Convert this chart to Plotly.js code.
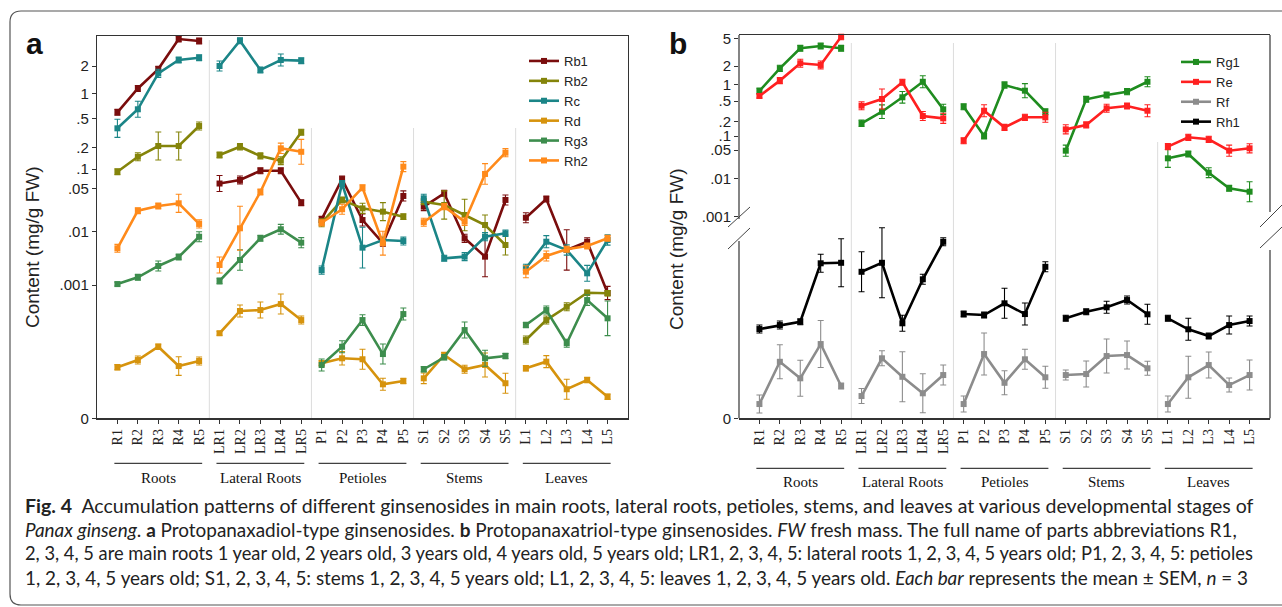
<!DOCTYPE html>
<html><head><meta charset="utf-8">
<script src="https://cdn.plot.ly/plotly-3.0.1.min.js"></script>
<style>html,body{margin:0;padding:0;background:#fff}#chart{width:1282px;height:607px}</style>
</head><body><div id="chart"></div>
<script>
// ---------------- DATA (mg/g FW, mean and SEM) ----------------
const groups = ['Roots','Lateral Roots','Petioles','Stems','Leaves'];
const categories = ['R1','R2','R3','R4','R5','LR1','LR2','LR3','LR4','LR5','P1','P2','P3','P4','P5','S1','S2','S3','S4','S5','L1','L2','L3','L4','L5'];

// Panel a: protopanaxadiol-type ginsenosides
const Rb1 = [0.59,1.13,1.85,3.97,3.78, 0.060,0.068,0.094,0.094,0.0295, 0.0157,0.070,0.0153,0.0060,0.038, 0.0254,0.042,0.0074,0.00337,0.0327, 0.0167,0.0339,0.00449,0.0064,0.00094];
const Rb1_sem = [0.05,0.09,0.14,0.31,0.29, 0.0195,0.010,0.010,0.010,0.0035, 0.0019,0.0078,0.0039,0.0008,0.008, 0.0041,0.005,0.0014,0.0046,0.0068, 0.0035,0.004,0.0061,0.0012,0.00005];
const Rb2 = [0.091,0.149,0.211,0.211,0.393, 0.158,0.206,0.153,0.131,0.324, 0.0138,0.0327,0.0238,0.0210,0.0174, 0.0306,0.0270,0.0185,0.0127,0.00556, 0.000587,0.000737,0.000837,0.000942,0.000938];
const Rb2_sem = [0.01,0.021,0.115,0.115,0.052, 0.016,0.021,0.016,0.018,0.032, 0.0022,0.0039,0.005,0.0085,0.002, 0.0037,0.019,0.015,0.0058,0.003, 0.00003,0.00003,0.00003,0.00002,0.00002];
const Rc = [0.366,0.642,1.66,2.33,2.47, 2.0,3.80,1.81,2.33,2.29, 0.0019,0.060,0.00496,0.00689,0.00659, 0.0348,0.00314,0.00337,0.00793,0.00918, 0.00205,0.0064,0.00449,0.00165,0.00689];
const Rc_sem = [0.12,0.16,0.18,0.18,0.19, 0.27,0.30,0.14,0.38,0.18, 0.00036,0.0067,0.0067,0.00094,0.0012, 0.0057,0.00043,0.00063,0.0015,0.0013, 0.00038,0.0019,0.0011,0.00067,0.0017];
const Rd = [0.000383,0.000437,0.000537,0.000392,0.00043, 0.000638,0.000805,0.000812,0.000857,0.000737, 0.000413,0.00045,0.000443,0.000255,0.00028, 0.0003,0.000475,0.000368,0.0004,0.000263, 0.000375,0.000425,0.000218,0.000287,0.000162];
const Rd_sem = [0.00002,0.00003,0.00002,0.00007,0.00003, 0.000015,0.000045,0.00006,0.000075,0.00003, 0.00002,0.00005,0.000075,0.000045,0.00002, 0.00004,0.00002,0.00003,0.00009,0.000075, 0.00002,0.000045,0.000075,0.00002,0.00002];
const Rg3 = [0.00104,0.00139,0.00226,0.00332,0.00793, 0.00119,0.00292,0.0074,0.0108,0.00614, 0.0004,0.000537,0.000737,0.000482,0.000782, 0.000368,0.000458,0.000662,0.00045,0.000467, 0.0007,0.000812,0.000563,0.000887,0.00075];
const Rg3_sem = [0.00009,0.00019,0.00054,0.00045,0.0019, 0.00016,0.0016,0.001,0.0022,0.0015, 0.000045,0.000045,0.00004,0.000075,0.000045, 0.00002,0.00002,0.00006,0.00006,0.00002, 0.00002,0.00003,0.00003,0.00004,0.00013];
const Rh2 = [0.00482,0.0218,0.026,0.0288,0.0132, 0.00236,0.0112,0.0441,0.196,0.175, 0.0138,0.023,0.0518,0.006,0.108, 0.0141,0.0254,0.0144,0.084,0.170, 0.00177,0.00347,0.00463,0.00532,0.0074];
const Rh2_sem = [0.0009,0.0026,0.0031,0.0117,0.0022, 0.00097,0.0145,0.0053,0.035,0.084, 0.0017,0.0048,0.0058,0.004,0.019, 0.0023,0.003,0.0023,0.035,0.024, 0.00052,0.00083,0.00063,0.00072,0.001];

// Panel b: protopanaxatriol-type ginsenosides
const Rg1 = [0.757,1.83,3.59,3.87,3.59, 0.185,0.311,0.583,1.10,0.346, 0.388,0.100,0.97,0.767,0.311, 0.0481,0.537,0.641,0.736,1.10, 0.0314,0.040,0.014,0.00558,0.00455];
const Rg1_sem = [0.10,0.22,0.37,0.40,0.37, 0.029,0.11,0.16,0.28,0.086, 0.055,0.016,0.13,0.26,0.044, 0.0155,0.07,0.085,0.098,0.23, 0.0206,0.0073,0.0045,0.0011,0.0038];
const Re = [0.616,1.15,2.19,2.07,5.27, 0.406,0.543,1.08,0.257,0.232, 0.0792,0.325,0.152,0.243,0.243, 0.138,0.171,0.362,0.401,0.325, 0.0589,0.0938,0.0849,0.0481,0.0543];
const Re_sem = [0.053,0.14,0.31,0.29,0.55, 0.079,0.28,0.13,0.057,0.058, 0.0128,0.099,0.024,0.035,0.06, 0.034,0.027,0.07,0.057,0.099, 0.0095,0.015,0.0137,0.0155,0.0136];
const Rf = [0.000057,0.000226,0.00016,0.000297,0.000129, 0.000089,0.00024,0.000166,0.0001,0.000173, 0.000057,0.000257,0.000142,0.000236,0.000164, 0.000173,0.000177,0.000249,0.000253,0.0002, 0.000057,0.000164,0.000213,0.000133,0.000173];
const Rf_sem = [0.000036,0.000068,0.000072,0.000094,0.000012, 0.00003,0.00003,0.0001,0.000078,0.00004, 0.000032,0.000084,0.000048,0.00004,0.000044, 0.00002,0.000052,0.000068,0.000056,0.000028, 0.000032,0.000084,0.000052,0.000028,0.00006];
const Rh1 = [0.000357,0.000373,0.000386,0.00062,0.000622, 0.000586,0.000622,0.00038,0.000556,0.000706, 0.000417,0.000413,0.00046,0.000417,0.000606, 0.0004,0.000426,0.000444,0.000473,0.000416, 0.0004,0.000356,0.000329,0.000373,0.000389];
const Rh1_sem = [0.000016,0.000016,0.000012,0.000036,0.000096, 0.00008,0.00014,0.000032,0.00002,0.000016, 0.000012,0.000012,0.00006,0.000044,0.00002, 0.000012,0.000012,0.000024,0.000016,0.00004, 0.000012,0.000044,0.000012,0.000036,0.00002];

const tickValsA = [2,1,0.5,0.2,0.1,0.05,0.01,0.001,0];
const tickTextA = ['2','1','.5','.2','.1','.05','.01','.001','0'];
const tickValsB = [5,2,1,0.5,0.2,0.1,0.05,0.01,0.001];
const tickTextB = ['5','2','1','.5','.2','.1','.05','.01','.001'];

// ---------------- SCALE (figure's compressed value axis) ----------------
const W = 1282, H = 607;
const PX = x => x / W, PY = y => 1 - y / H;
const BOTTOM = 418.3;
// calibration: value -> pixel row in the figure
const calibA = [[2,66],[1,93.3],[0.5,118.3],[0.2,147.7],[0.1,169],[0.05,188.7],[0.01,231.3],[0.001,285]];
const calibB = [[5,38.3],[2,66],[1,84.3],[0.5,101],[0.2,121.7],[0.1,136],[0.05,150],[0.01,178.7],[0.001,216.7]];
const lowerB = {v: 0.0007, px: 243.3};   // lower (broken) segment of panel b, linear from 0

function makeScale(nodes, zeroPx) {
  const L = Math.log10;
  return function (v) {
    let px;
    const n0 = nodes[0], nl = nodes[nodes.length - 1];
    if (v <= nl[0]) {
      px = zeroPx + (nl[1] - zeroPx) * v / nl[0];
    } else if (v >= n0[0]) {
      const n1 = nodes[1];
      const s = (n1[1] - n0[1]) / (L(n1[0]) - L(n0[0]));
      px = n0[1] + s * (L(v) - L(n0[0]));
    } else {
      for (let i = 0; i < nodes.length - 1; i++) {
        const a = nodes[i], b = nodes[i + 1];
        if (v <= a[0] && v >= b[0]) {
          px = a[1] + (b[1] - a[1]) * (L(v) - L(a[0])) / (L(b[0]) - L(a[0]));
          break;
        }
      }
    }
    return BOTTOM - px;
  };
}
const TA = makeScale(calibA, BOTTOM);
const TB = makeScale(calibB, BOTTOM);
const TBlow = v => (BOTTOM - lowerB.px) * v / lowerB.v;

// ---------------- TRACES ----------------
function series(name, vals, sem, scale, color, xa, ya, leg) {
  const x = [], y = [], e = [];
  for (let g = 0; g < groups.length; g++) {
    for (let k = 0; k < 5; k++) {
      const i = g * 5 + k;
      x.push(i);
      y.push(scale(vals[i]));
      e.push(scale(vals[i] + sem[i]) - scale(vals[i]));
    }
    if (g < groups.length - 1) { x.push(g * 5 + 4.5); y.push(null); e.push(null); }
  }
  return {
    type: 'scatter', mode: 'lines+markers', name, x, y, xaxis: xa, yaxis: ya, legend: leg,
    connectgaps: false, cliponaxis: false, hoverinfo: 'skip',
    line: {color, width: 2.6},
    marker: {symbol: 'square', size: 6, color},
    error_y: {type: 'data', array: e, symmetric: true, color, thickness: 1.1, width: 3}
  };
}

const traces = [
  series('Rb1', Rb1, Rb1_sem, TA, '#7a0d0d', 'x', 'y', 'legend'),
  series('Rb2', Rb2, Rb2_sem, TA, '#84840a', 'x', 'y', 'legend'),
  series('Rc',  Rc,  Rc_sem,  TA, '#1b8587', 'x', 'y', 'legend'),
  series('Rd',  Rd,  Rd_sem,  TA, '#d6930d', 'x', 'y', 'legend'),
  series('Rg3', Rg3, Rg3_sem, TA, '#3d8d4d', 'x', 'y', 'legend'),
  series('Rh2', Rh2, Rh2_sem, TA, '#ff8a1a', 'x', 'y', 'legend'),
  series('Rg1', Rg1, Rg1_sem, TB, '#1f8c1f', 'x2', 'y2', 'legend2'),
  series('Re',  Re,  Re_sem,  TB, '#ff2020', 'x2', 'y2', 'legend2'),
  series('Rf',  Rf,  Rf_sem,  TBlow, '#8c8c8c', 'x2', 'y2', 'legend2'),
  series('Rh1', Rh1, Rh1_sem, TBlow, '#000000', 'x2', 'y2', 'legend2')
];

// ---------------- LAYOUT ----------------
const serif = 'Liberation Serif, Times New Roman, serif';
const sans = 'Liberation Sans, Arial, sans-serif';
const idx = categories.map((c, i) => i);

function xAxis(x0, x1, anchor) {
  return {
    domain: [PX(x0), PX(x1)], anchor, range: [-1, 25], tickvals: idx, ticktext: categories,
    tickangle: -90, tickfont: {family: serif, size: 14, color: '#222'},
    ticks: 'outside', ticklen: 4, tickcolor: '#333', showline: true, linecolor: '#333',
    linewidth: 1.2, mirror: true, showgrid: false, zeroline: false, fixedrange: true
  };
}
const panelA = {x0: 97, x1: 628, top: 35.7};
const panelB = {x0: 739, x1: 1270, top: 35};

const layout = {
  width: W, height: H, margin: {l: 0, r: 0, t: 0, b: 0},
  paper_bgcolor: '#fff', plot_bgcolor: '#fff', showlegend: true,
  xaxis: xAxis(panelA.x0, panelA.x1, 'y'),
  xaxis2: xAxis(panelB.x0, panelB.x1, 'y2'),
  yaxis: {
    domain: [PY(BOTTOM), PY(panelA.top)], anchor: 'x', range: [0, BOTTOM - panelA.top],
    tickvals: tickValsA.map(TA), ticktext: tickTextA, tickfont: {family: sans, size: 15, color: '#222'},
    ticks: 'outside', ticklen: 4, tickcolor: '#333', showline: true, linecolor: '#333', linewidth: 1.2,
    mirror: true, showgrid: false, zeroline: false, fixedrange: true
  },
  yaxis2: {
    domain: [PY(BOTTOM), PY(panelB.top)], anchor: 'x2', range: [0, BOTTOM - panelB.top],
    tickvals: tickValsB.map(TB).concat([TBlow(0)]), ticktext: tickTextB.concat(['0']),
    tickfont: {family: sans, size: 15, color: '#222'},
    ticks: 'outside', ticklen: 4, tickcolor: '#333', showline: false,
    showgrid: false, zeroline: false, fixedrange: true
  },
  legend: {x: PX(524), y: PY(46), xanchor: 'left', yanchor: 'top', bgcolor: 'rgba(0,0,0,0)',
           font: {family: sans, size: 13, color: '#222'}, itemwidth: 30, tracegroupgap: 0},
  legend2: {x: PX(1176), y: PY(47), xanchor: 'left', yanchor: 'top', bgcolor: 'rgba(0,0,0,0)',
           font: {family: sans, size: 13, color: '#222'}, itemwidth: 30, tracegroupgap: 0},
  shapes: [], annotations: []
};

const S = layout.shapes, A = layout.annotations;
// outer rounded frame
(function () {
  const x0 = 10, y0 = 11, x1 = 1290, y1 = 605, r = 11;
  S.push({type: 'path', xref: 'paper', yref: 'paper', line: {color: '#555', width: 1.2},
    path: `M ${PX(x1)},${PY(y0)} L ${PX(x0 + r)},${PY(y0)} Q ${PX(x0)},${PY(y0)} ${PX(x0)},${PY(y0 + r)} L ${PX(x0)},${PY(y1 - r)} Q ${PX(x0)},${PY(y1)} ${PX(x0 + r)},${PY(y1)} L ${PX(x1)},${PY(y1)}`});
})();
// group separators
function sep(xref, xv, yTop) {
  S.push({type: 'line', xref, yref: 'paper', x0: xv, x1: xv, y0: PY(BOTTOM), y1: PY(yTop), line: {color: '#dcdcdc', width: 1}, layer: 'below'});
}
sep('x', 4.5, 40); sep('x', 9.5, 128); sep('x', 14.5, 128); sep('x', 19.5, 128);
sep('x2', 4.5, 43); sep('x2', 9.5, 43); sep('x2', 14.5, 43); sep('x2', 19.5, 142);
// panel b broken frame
function pline(x0, y0, x1, y1, w, c) {
  S.push({type: 'line', xref: 'paper', yref: 'paper', x0: PX(x0), y0: PY(y0), x1: PX(x1), y1: PY(y1), line: {color: c || '#333', width: w || 1.2}});
}
pline(739, 35, 739, 219); pline(739, 241, 739, BOTTOM);
pline(1270, 35, 1270, 212); pline(1270, 250, 1270, BOTTOM);
pline(728, 227, 750, 207, 1, '#444'); pline(728, 249, 750, 228, 1, '#444');
pline(1260, 227, 1282, 205, 1, '#444'); pline(1260, 248, 1282, 227, 1, '#444');

// group labels under x axes
function groupLabels(xref, lineY, textY) {
  groups.forEach((g, k) => {
    S.push({type: 'line', xref, yref: 'paper', x0: k * 5 - 0.15, x1: k * 5 + 4.15, y0: PY(lineY), y1: PY(lineY), line: {color: '#111', width: 1}});
    A.push({xref, yref: 'paper', x: k * 5 + 2, y: PY(textY), text: g, showarrow: false, xanchor: 'center', yanchor: 'middle',
            font: {family: serif, size: 15, color: '#111'}});
  });
}
groupLabels('x', 463.3, 477.7);
groupLabels('x2', 468.3, 482.3);

// y-axis titles and panel letters
A.push({xref: 'paper', yref: 'paper', x: PX(33), y: PY(247), text: 'Content (mg/g FW)', textangle: -90, showarrow: false,
        xanchor: 'center', yanchor: 'middle', font: {family: sans, size: 19, color: '#222'}});
A.push({xref: 'paper', yref: 'paper', x: PX(676), y: PY(249), text: 'Content (mg/g FW)', textangle: -90, showarrow: false,
        xanchor: 'center', yanchor: 'middle', font: {family: sans, size: 19, color: '#222'}});
A.push({xref: 'paper', yref: 'paper', x: PX(34), y: PY(44), text: '<b>a</b>', showarrow: false, xanchor: 'center', yanchor: 'middle',
        font: {family: sans, size: 30, color: '#111'}});
A.push({xref: 'paper', yref: 'paper', x: PX(678), y: PY(44), text: '<b>b</b>', showarrow: false, xanchor: 'center', yanchor: 'middle',
        font: {family: sans, size: 30, color: '#111'}});

// caption
const caption = [
  '<b>Fig. 4</b>\u00a0\u00a0Accumulation patterns of different ginsenosides in main roots, lateral roots, petioles, stems, and leaves at various developmental stages of',
  '<i>Panax ginseng</i>. <b>a</b> Protopanaxadiol-type ginsenosides. <b>b</b> Protopanaxatriol-type ginsenosides. <i>FW</i> fresh mass. The full name of parts abbreviations R1,',
  '2, 3, 4, 5 are main roots 1 year old, 2 years old, 3 years old, 4 years old, 5 years old; LR1, 2, 3, 4, 5: lateral roots 1, 2, 3, 4, 5 years old; P1, 2, 3, 4, 5: petioles',
  '1, 2, 3, 4, 5 years old; S1, 2, 3, 4, 5: stems 1, 2, 3, 4, 5 years old; L1, 2, 3, 4, 5: leaves 1, 2, 3, 4, 5 years old. <i>Each bar</i> represents the mean \u00b1 SEM, <i>n</i> = 3'
];
const capY = [505, 529, 553, 577];
const capSize = [19.55, 18.93, 18.3, 18.9];
caption.forEach((t, i) => A.push({xref: 'paper', yref: 'paper', x: PX(23), y: PY(capY[i]), text: t, showarrow: false,
  xanchor: 'left', yanchor: 'middle', font: {family: 'Lato, sans-serif', size: capSize[i], color: '#222'}}));

Plotly.newPlot('chart', traces, layout, {displayModeBar: false, staticPlot: true});
</script></body></html>
